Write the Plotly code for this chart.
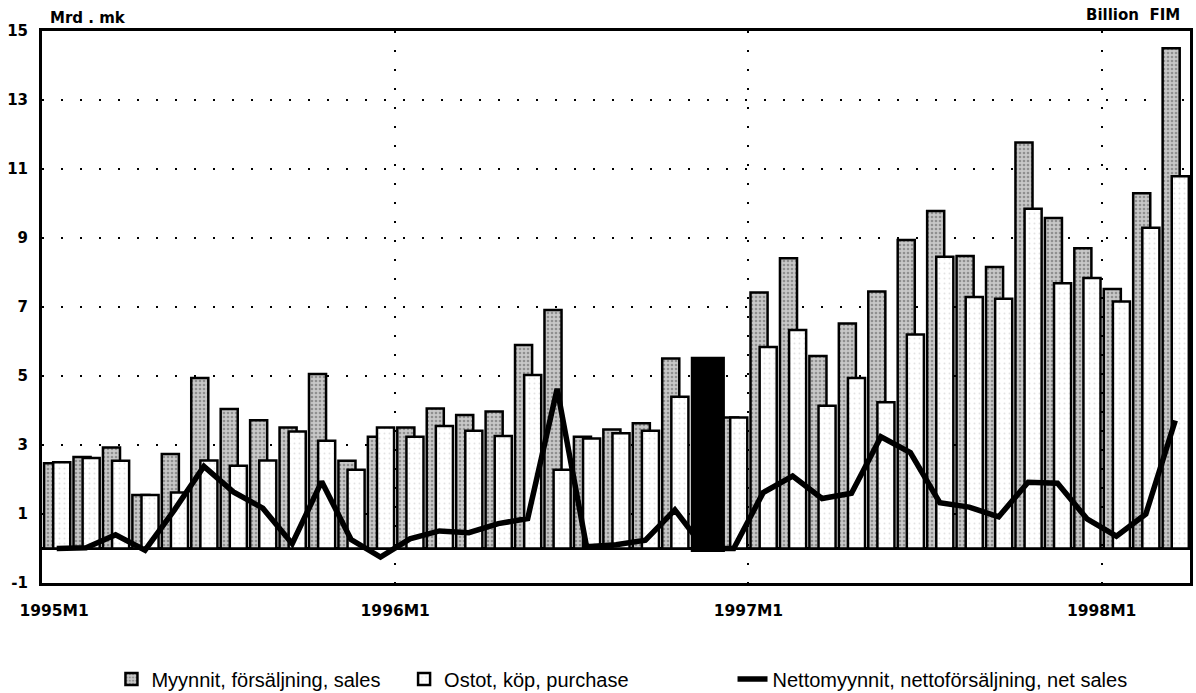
import plotly.graph_objects as go

# ---- data (billion FIM), monthly 1995M1 .. 1998M3 ----
years = [1995, 1996, 1997, 1998]
months = [f"{y}M{m}" for y in years for m in range(1, 13)][:39]

sales = [2.47, 2.65, 2.93, 1.55, 2.74, 4.94, 4.04, 3.72, 3.51, 5.06, 2.54, 3.24,
         3.51, 4.06, 3.87, 3.97, 5.90, 6.91, 3.24, 3.45, 3.63, 5.51, None, 3.80,
         7.42, 8.41, 5.58, 6.52, 7.45, 8.94, 9.78, 8.48, 8.16, 11.77, 9.58, 8.70,
         7.52, 10.30, 14.50]
purchase = [2.50, 2.62, 2.54, 1.55, 1.62, 2.55, 2.40, 2.55, 3.39, 3.12, 2.28, 3.51,
            3.24, 3.55, 3.41, 3.26, 5.03, 2.28, 3.19, 3.34, 3.41, 4.40, None, 3.80,
            5.84, 6.33, 4.14, 4.94, 4.24, 6.20, 8.46, 7.29, 7.24, 9.85, 7.69, 7.84,
            7.16, 9.30, 10.79]
net_sales = [0.00, 0.02, 0.40, -0.05, 1.12, 2.38, 1.64, 1.17, 0.14, 1.94, 0.26, -0.25,
             0.28, 0.51, 0.46, 0.72, 0.87, 4.63, 0.05, 0.11, 0.24, 1.12, 0.00, 0.00,
             1.62, 2.10, 1.45, 1.60, 3.24, 2.78, 1.33, 1.20, 0.92, 1.92, 1.89, 0.86,
             0.36, 1.00, 3.71]

# black block covering 1996M11
break_month = "1996M11"
break_top = 5.56
break_base = -0.10

tick_labels = ["1995M1", "1996M1", "1997M1", "1998M1"]
y_ticks = [-1, 1, 3, 5, 7, 9, 11, 13, 15]

names = ["Myynnit, försäljning, sales", "Ostot, köp, purchase",
         "Nettomyynnit, nettoförsäljning, net sales"]

# ---- positions on a numeric month axis ----
idx = list(range(len(months)))
centers = [i + 0.5 for i in idx]
break_idx = months.index(break_month)
year_starts = [months.index(t) for t in tick_labels]

fig = go.Figure()
fig.add_bar(
    x=idx, y=sales, name=names[0], offset=0.07, width=0.58, legend="legend",
    marker=dict(color="#c2c2c2", line=dict(color="black", width=2.5),
                pattern=dict(shape=".", fgcolor="#555555", bgcolor="#c8c8c8",
                             size=4, solidity=0.35)),
)
fig.add_bar(
    x=idx, y=purchase, name=names[1], offset=0.38, width=0.58, legend="legend2",
    marker=dict(color="white", line=dict(color="black", width=2.5),
                pattern=dict(shape=".", fgcolor="#c8c8c8", bgcolor="white",
                             size=5, solidity=0.12)),
)
fig.add_bar(
    x=[break_idx], y=[break_top - break_base], base=[break_base],
    offset=0.04, width=1.16, showlegend=False, hoverinfo="skip",
    marker=dict(color="black", line=dict(color="black", width=0)),
)
fig.add_scatter(
    x=centers, y=net_sales, mode="lines", name=names[2], legend="legend3",
    line=dict(color="black", width=5.5),
)

grid_dash = "2px,17px"

fig.update_layout(
    width=1196, height=693,
    margin=dict(l=42, r=6, t=31, b=110, autoexpand=False),
    paper_bgcolor="white", plot_bgcolor="white",
    barmode="overlay",
    font=dict(family="DejaVu Sans", color="black"),
    xaxis=dict(
        range=[0, len(months)],
        tickmode="array",
        tickvals=[year_starts[0] + 0.41] + year_starts[1:],
        ticktext=tick_labels,
        tickfont=dict(family="DejaVu Sans", size=15.5, color="black", weight="bold"),
        ticks="", ticklabelstandoff=11,
        showgrid=False, zeroline=False,
        showline=True, linecolor="black", linewidth=3, mirror=True,
        minor=dict(tickvals=year_starts[1:], showgrid=True, gridcolor="black",
                   gridwidth=1.5, griddash=grid_dash, ticks=""),
    ),
    yaxis=dict(
        range=[-1, 15],
        tickmode="array", tickvals=y_ticks, ticktext=[str(v) for v in y_ticks],
        tickfont=dict(family="DejaVu Sans", size=15, color="black", weight="bold"),
        ticks="", ticklabelstandoff=8,
        showgrid=True, gridcolor="black", gridwidth=1.5, griddash=grid_dash,
        zeroline=True, zerolinecolor="black", zerolinewidth=2.5,
        showline=True, linecolor="black", linewidth=3, mirror=True,
    ),
    annotations=[
        dict(text="Mrd . mk", xref="paper", yref="paper", x=0.005, y=1.023,
             xanchor="left", yanchor="middle", showarrow=False,
             font=dict(family="DejaVu Sans", size=15, color="black", weight="bold")),
        dict(text="Billion  FIM", xref="paper", yref="paper", x=0.993, y=1.029,
             xanchor="right", yanchor="middle", showarrow=False,
             font=dict(family="DejaVu Sans", size=15, color="black", weight="bold")),
    ],
)

leg_common = dict(orientation="h", y=-0.174, yanchor="middle", xanchor="left",
                  bgcolor="rgba(0,0,0,0)",
                  font=dict(family="Liberation Sans", size=20, color="black"))
fig.update_layout(
    legend=dict(x=0.0605, **leg_common),
    legend2=dict(x=0.3154, **leg_common),
    legend3=dict(x=0.6015, **leg_common),
)

fig.write_html(
    "out.html",
    config={"displayModeBar": False},
    post_script="document.body.style.margin='0';document.body.style.overflow='hidden';",
)
